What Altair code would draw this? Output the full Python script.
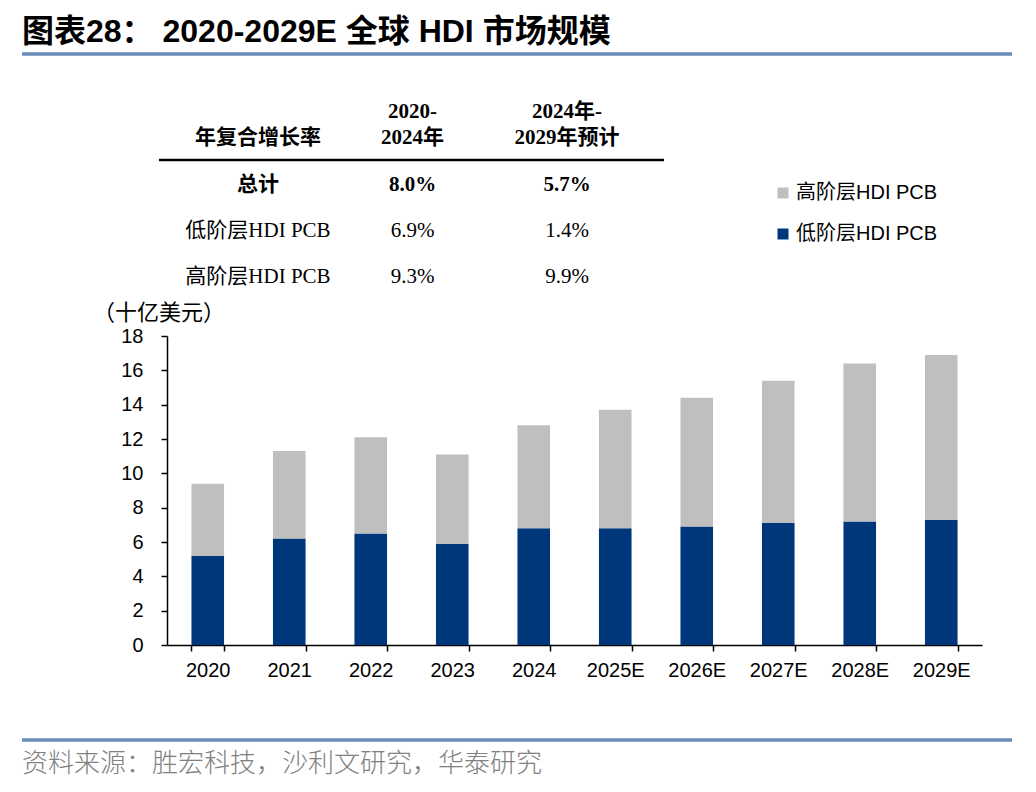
import altair as alt
import pandas as pd

# ---------------- data ----------------
years = ["2020", "2021", "2022", "2023", "2024", "2025E", "2026E", "2027E", "2028E", "2029E"]
low_hdi = [5.2, 6.2, 6.5, 5.9, 6.8, 6.8, 6.9, 7.1, 7.2, 7.3]
high_hdi = [4.2, 5.1, 5.6, 5.2, 6.0, 6.9, 7.5, 8.3, 9.2, 9.6]
series = ["高阶层HDI PCB", "低阶层HDI PCB"]
colors = ["#BFBFBF", "#00377A"]
y_ticks = [0, 2, 4, 6, 8, 10, 12, 14, 16, 18]

table_headers = ["\n年复合增长率", "2020-\n2024年", "2024年-\n2029年预计"]
cagr_rows = ["总计", "低阶层HDI PCB", "高阶层HDI PCB"]
cagr_2020_2024 = ["8.0%", "6.9%", "9.3%"]
cagr_2024_2029 = ["5.7%", "1.4%", "9.9%"]

title_text = "图表28： 2020-2029E 全球 HDI 市场规模"
unit_text = "（十亿美元）"
source_text = "资料来源：胜宏科技，沙利文研究，华泰研究"

SANS = "Liberation Sans, Arial, Noto Sans CJK SC"
SERIF = "Liberation Serif, Times New Roman, Noto Sans CJK SC"
CJK = "Noto Sans CJK SC"

# ---------------- tables ----------------
rows = []
for i, y in enumerate(years):
    rows.append({"year": y, "series": series[1], "value": low_hdi[i], "ord": 0})
    rows.append({"year": y, "series": series[0], "value": high_hdi[i], "ord": 1})
bar_df = pd.DataFrame(rows)

cells = []
for r in range(3):
    cells.append({"row": r, "col": 0, "text": cagr_rows[r]})
    cells.append({"row": r, "col": 1, "text": cagr_2020_2024[r]})
    cells.append({"row": r, "col": 2, "text": cagr_2024_2029[r]})
cell_df = pd.DataFrame(cells)
head_df = pd.DataFrame({"col": [0, 1, 2], "text": table_headers})

one = pd.DataFrame({"k": [0]})

# ---------------- layers ----------------
bars = alt.Chart(bar_df).mark_bar().encode(
    x=alt.X("year:N", sort=years,
            scale=alt.Scale(paddingInner=0.6, paddingOuter=0.3),
            axis=alt.Axis(title=None, labelAngle=0, tickBand="extent",
                          labelFont=SANS, labelFontSize=20, labelColor="black",
                          domainColor="black", domainWidth=1.5,
                          tickColor="black", tickWidth=1.5, tickSize=6,
                          labelPadding=9)),
    y=alt.Y("value:Q", stack="zero",
            scale=alt.Scale(domain=[0, 18], nice=False),
            axis=alt.Axis(title=None, values=y_ticks, grid=False,
                          labelFont=SANS, labelFontSize=20, labelColor="black",
                          domainColor="black", domainWidth=1.5,
                          tickColor="black", tickWidth=1.5, tickSize=6,
                          labelPadding=18)),
    color=alt.Color("series:N",
                    scale=alt.Scale(domain=series, range=colors),
                    legend=alt.Legend(title=None, orient="none",
                                      legendX=606, legendY=-153,
                                      symbolType="square", symbolSize=121,
                                      symbolStrokeWidth=0,
                                      labelFont=SANS, labelFontSize=20,
                                      labelColor="black",
                                      rowPadding=21, labelOffset=3, padding=0)),
    order=alt.Order("ord:Q"),
)

col_x = alt.X("col:Q", scale=alt.Scale(domain=[0, 2], range=[91, 400], nice=False, zero=False), axis=None)
row_y = alt.Y("row:Q", scale=alt.Scale(domain=[0, 2], range=[-151, -59], nice=False, zero=False), axis=None)

table_bold = alt.Chart(cell_df).transform_filter("datum.row == 0").mark_text(
    font=SERIF, fontSize=21, fontWeight="bold", color="black", align="center", baseline="middle"
).encode(x=col_x, y=row_y, text="text:N")

table_norm = alt.Chart(cell_df).transform_filter("datum.row > 0").mark_text(
    font=SERIF, fontSize=21, color="black", align="center", baseline="middle"
).encode(x=col_x, y=row_y, text="text:N")

table_head = alt.Chart(head_df).mark_text(
    font=SERIF, fontSize=21, fontWeight="bold", color="black", align="center",
    baseline="middle", lineBreak="\n", lineHeight=26
).encode(x=col_x, y=alt.value(-224), text="text:N")

table_rule = alt.Chart(one).mark_rule(color="black", strokeWidth=2.5).encode(
    x=alt.value(-8), x2=alt.value(497), y=alt.value(-176))

title = alt.Chart(pd.DataFrame({"t": [title_text]})).mark_text(
    font=SANS, fontSize=32, fontWeight="bold", color="black", align="left", baseline="middle"
).encode(x=alt.value(-145), y=alt.value(-304), text="t:N")

top_rule = alt.Chart(one).mark_rule(color="#6A8DB8", strokeWidth=3.5).encode(
    x=alt.value(-145), x2=alt.value(845), y=alt.value(-282))

unit = alt.Chart(pd.DataFrame({"t": [unit_text]})).mark_text(
    font=CJK, fontSize=22, color="black", align="left", baseline="middle"
).encode(x=alt.value(-74), y=alt.value(-23), text="t:N")

bottom_rule = alt.Chart(one).mark_rule(color="#6A8DB8", strokeWidth=3.5).encode(
    x=alt.value(-145), x2=alt.value(845), y=alt.value(404))

footer = alt.Chart(pd.DataFrame({"t": [source_text]})).mark_text(
    font=CJK, fontSize=26, fontWeight=300, color="#808080", align="left", baseline="middle"
).encode(x=alt.value(-145), y=alt.value(428), text="t:N")

chart = alt.layer(
    title, top_rule, table_head, table_rule, table_bold, table_norm,
    unit, bars, bottom_rule, footer
).resolve_scale(x="independent", y="independent").properties(
    width=815, height=309,
    padding={"left": 159, "top": 328, "right": 30, "bottom": 138},
    autosize=alt.AutoSizeParams(type="none"),
).configure_view(stroke=None)

chart.save("out.html", embed_options={"renderer": "svg", "actions": False})
